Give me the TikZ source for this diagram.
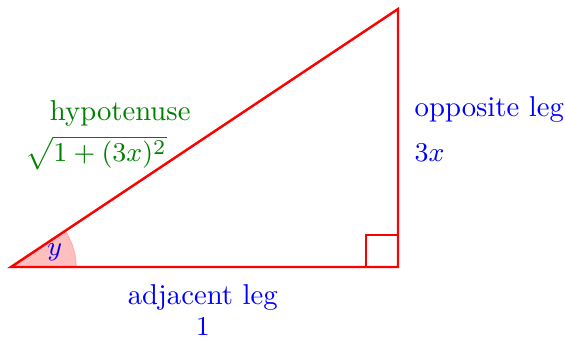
\documentclass[tikz,border=0pt]{standalone}
\usepackage{amsmath}
\usepackage{xcolor}
\usepackage{tikz}
\usetikzlibrary{positioning,calc}

\begin{document}
\begin{tikzpicture}[x=1cm,y=1cm,
  leg/.style={thick,red},
  sidelabel/.style={blue,font=\fontsize{9.5}{11}\selectfont},
  hyplabel/.style={green!50!black,font=\fontsize{9.5}{11}\selectfont}]
  \useasboundingbox (-0.128,-0.826) rectangle (6.442,3.105);
  \coordinate (A) at (0,0);
  \coordinate (B) at (4.5,0);
  \coordinate (C) at (4.5,3);
  % angle y
  \fill[red!25] (A) -- (0.756,0) arc[start angle=0,end angle=33.69,radius=0.756] -- cycle;
  \draw[red!30] (0.756,0) arc[start angle=0,end angle=33.69,radius=0.756];
  \node[sidelabel] (y) at (0.51,0.17) {$y$};
  % triangle
  \draw[leg] (A) -- (B) -- (C) -- cycle;
  \draw[leg] ($(B)+(-0.372,0)$) -- ++(0,0.372) -- ++(0.372,0);
  \node[hyplabel] (hyp) at (1.27,1.79) {hypotenuse};
  \node[hyplabel] (hypval) at (0.99,1.33) {$\sqrt{1+(3x)^2}$};
  \node[sidelabel,anchor=west] (opp) at (4.57,1.83) {opposite leg};
  \node[sidelabel,anchor=west] (oppval) at (4.57,1.33) {$3x$};
  \node[sidelabel] (adj) at (2.23,-0.35) {adjacent leg};
  \node[sidelabel] (adjval) at (2.23,-0.69) {$1$};
\end{tikzpicture}
\end{document}
